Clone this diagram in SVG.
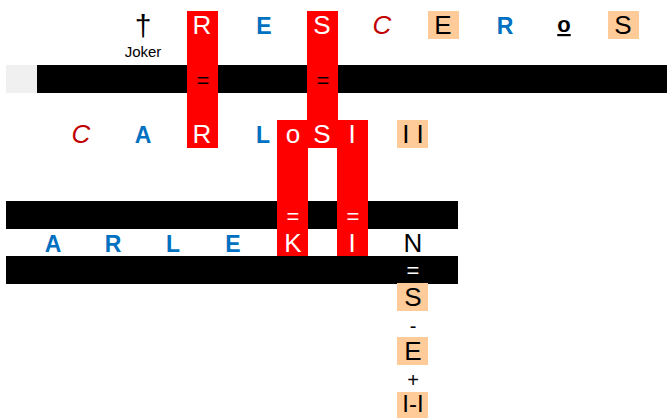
<svg xmlns="http://www.w3.org/2000/svg" width="667" height="418" viewBox="0 0 667 418">
<style>
text{font-family:"Liberation Sans",Arial,sans-serif;text-anchor:middle}
.w{fill:#fff;font-size:26px}
.b{fill:#0070C0;font-size:23px;font-weight:bold}
.c{fill:#C00000;font-size:26px;font-style:italic}
.k{fill:#000;font-size:26px}
.eq{font-size:22px}
.red{fill:#FF0000}
.pe{fill:#FFCC99}
.bar{fill:#000}
</style>
<rect width="667" height="418" fill="#fff"/>
<g id="bars">
<rect x="6" y="65" width="31" height="28" fill="#F0F0F0"/>
<rect class="bar" x="37" y="65" width="630" height="28"/>
<rect class="bar" x="6" y="201" width="452" height="28"/>
<rect class="bar" x="6" y="256" width="452" height="28"/>
</g>
<g id="red">
<rect class="red" x="187" y="11" width="31" height="137"/>
<rect class="red" x="307" y="11" width="31" height="137"/>
<rect class="red" x="277" y="120" width="91" height="28"/>
<rect class="red" x="277" y="148" width="31" height="108"/>
<rect class="red" x="337" y="148" width="31" height="108"/>
</g>
<g id="peach">
<rect class="pe" x="428" y="11" width="31" height="28"/>
<rect class="pe" x="608" y="11" width="31" height="28"/>
<rect class="pe" x="397" y="120" width="31" height="28"/>
<rect class="pe" x="397" y="283" width="31" height="28"/>
<rect class="pe" x="397" y="337" width="31" height="28"/>
<rect class="pe" x="397" y="392" width="31" height="26"/>
</g>
<g id="row1">
<text x="143" y="36" class="k" style="font-size:30px">†</text>
<text x="143" y="57" style="font-size:15px">Joker</text>
<text x="202" y="34" class="w">R</text>
<text x="264" y="34" class="b">E</text>
<text x="322" y="34" class="w">S</text>
<text x="382" y="34" class="c">C</text>
<text x="443" y="34" class="k">E</text>
<text x="505" y="34" class="b">R</text>
<text x="564" y="32" class="k" style="font-size:22px;font-weight:bold;text-decoration:underline">o</text>
<text x="623" y="34" class="k">S</text>
<text x="203" y="88" class="eq">=</text>
<text x="323" y="88" class="eq">=</text>
</g>
<g id="row2">
<text x="81" y="143" class="c">C</text>
<text x="143" y="143" class="b">A</text>
<text x="202" y="143" class="w">R</text>
<text x="263" y="143" class="b">L</text>
<text x="293" y="143" class="w">o</text>
<text x="322" y="143" class="w">S</text>
<text x="352" y="143" class="w">I</text>
<text x="413" y="143" class="k">I I</text>
<text x="293" y="224" class="eq" fill="#fff">=</text>
<text x="353" y="224" class="eq" fill="#fff">=</text>
</g>
<g id="row3">
<text x="53" y="252" class="b">A</text>
<text x="113" y="252" class="b">R</text>
<text x="173" y="252" class="b">L</text>
<text x="233" y="252" class="b">E</text>
<text x="293" y="252" class="w">K</text>
<text x="352" y="252" class="w">I</text>
<text x="413" y="252" class="k">N</text>
<text x="413" y="278" class="eq" fill="#fff">=</text>
</g>
<g id="column">
<text x="413" y="306" class="k">S</text>
<text x="413" y="333" style="font-size:20px">-</text>
<text x="413" y="360" class="k">E</text>
<text x="413" y="387" style="font-size:20px">+</text>
<text x="413" y="412" class="k" style="font-size:24px">I-I</text>
</g>
</svg>
